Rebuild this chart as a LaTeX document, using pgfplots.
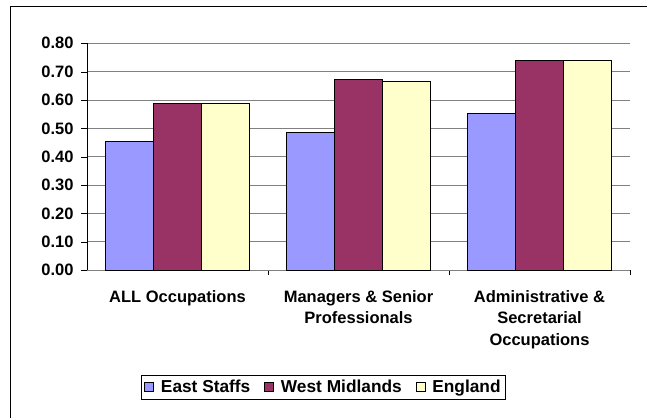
\documentclass[border=0pt]{standalone}
\usepackage{pgfplots}
\pgfplotsset{compat=1.18}
\usepackage{fontspec}
\setmainfont{Liberation Sans}
\definecolor{eaststaffs}{HTML}{9999FF}
\definecolor{westmid}{HTML}{993366}
\definecolor{england}{HTML}{FFFFCC}
\definecolor{gridgray}{HTML}{808080}
\begin{document}
\begin{tikzpicture}[x=1bp,y=1bp]
\useasboundingbox (0,0) rectangle (647,417);
\draw[black, line width=1bp] (10,-10) -- (10,410) -- (660,410);
\begin{axis}[
  at={(87bp,147bp)}, anchor=south west,
  scale only axis, width=543bp, height=226.7bp,
  xmin=-0.5, xmax=2.5, ymin=0, ymax=0.8,
  ybar=0pt, bar width=48bp,
  axis x line*=bottom, axis y line*=left,
  x axis line style={gridgray},
  y axis line style={black},
  xtick={0,1,2},
  xticklabels={{ALL Occupations},{Managers \& Senior\\Professionals},{Administrative \&\\Secretarial\\Occupations}},
  major x tick style={draw=none},
  minor xtick={0.5,1.5,2.5},
  minor x tick style={black},
  minor tick length=5bp,
  ytick={0,0.1,...,0.8},
  major tick length=6bp,
  tick align=outside,
  y tick style={black},
  ymajorgrids, grid style={gridgray, line width=0.8bp},
  /pgf/number format/assume math mode=true,
  yticklabel style={/pgf/number format/fixed, /pgf/number format/precision=2, /pgf/number format/fixed zerofill},
  tick label style={font=\fontsize{16.5bp}{21.5bp}\selectfont\bfseries},
  xticklabel style={align=center, yshift=-11bp},
  yticklabel style={xshift=-4bp},
  legend style={at={(0.4355,-0.516)}, anchor=center, draw=black, line width=0.8bp,
    font=\fontsize{17.3bp}{21bp}\selectfont\bfseries, legend columns=-1,
    /tikz/every odd column/.append style={column sep=5bp},
    /tikz/every even column/.append style={column sep=12bp},
    inner ysep=3bp, inner xsep=3bp},
  legend image code/.code={\draw[#1, line width=0.6bp] (0bp,-4.5bp) rectangle (9bp,4.5bp);},
  every axis plot/.append style={draw=black, line width=0.7bp},
]
\addplot[fill=eaststaffs] coordinates {(0,0.453) (1,0.485) (2,0.553)};
\addplot[fill=westmid] coordinates {(0,0.589) (1,0.673) (2,0.740)};
\addplot[fill=england] coordinates {(0,0.589) (1,0.665) (2,0.740)};
\legend{East Staffs, West Midlands, England}
\end{axis}
\end{tikzpicture}
\end{document}
